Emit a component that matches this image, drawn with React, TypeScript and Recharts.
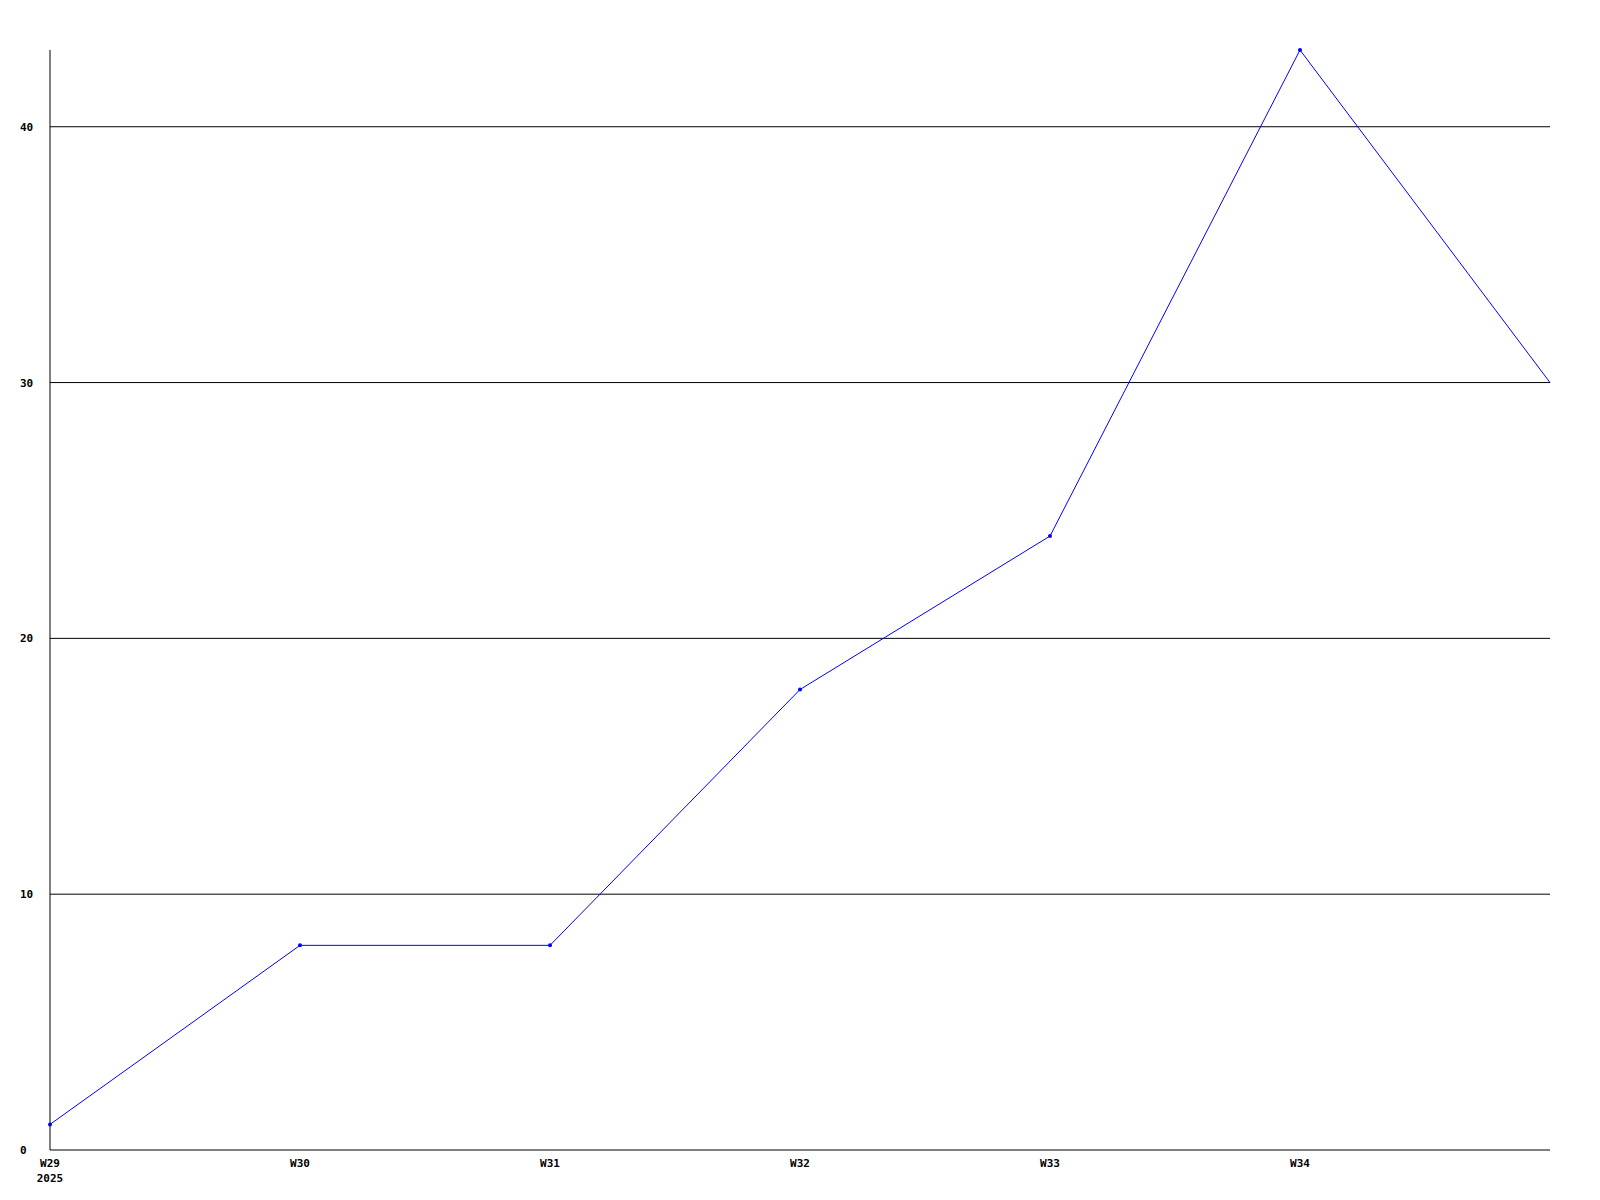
import { LineChart, Line, XAxis, YAxis, CartesianGrid } from 'recharts'

const weeks = ['W29', 'W30', 'W31', 'W32', 'W33', 'W34', 'W35']
const counts = [1, 8, 8, 18, 24, 43, 30]
const yTicks = [0, 10, 20, 30, 40]
const gridValues = [10, 20, 30, 40]
const xTicks = [0, 1, 2, 3, 4, 5]
const yearLabel = '2025'

const data = weeks.map((week, i) => ({ idx: i, week, count: counts[i] }))

const labelFont = {
  fontFamily: '"DejaVu Sans Mono", monospace',
  fontSize: 11,
  fontWeight: 'bold' as const,
  fill: '#000',
}

function YTick(props: any) {
  const { y, payload } = props
  return (
    <text x={20} y={y} dy={4} textAnchor="start" {...labelFont}>
      {payload.value}
    </text>
  )
}

function XTick(props: any) {
  const { x, y, payload } = props
  return (
    <g>
      <text x={x} y={y} dy={9} textAnchor="middle" {...labelFont}>
        {weeks[payload.value]}
      </text>
      {payload.value === 0 && (
        <text x={x} y={y} dy={24} textAnchor="middle" {...labelFont}>
          {yearLabel}
        </text>
      )}
    </g>
  )
}

// the last week has no marker in the original
function PointDot(props: any) {
  const { cx, cy, index } = props
  if (index === counts.length - 1) return <g key={index} />
  return <circle key={index} cx={cx} cy={cy} r={2} fill="#0000ff" />
}

export default function App() {
  return (
    <div style={{ position: 'absolute', left: 0, top: 0, width: 1600, height: 1200, background: '#fff' }}>
      <LineChart
        width={1600}
        height={1200}
        data={data}
        margin={{ top: 50, right: 50, bottom: 0, left: 0 }}
      >
        <CartesianGrid vertical={false} stroke="#000" strokeWidth={1} horizontalValues={gridValues} />
        <XAxis
          dataKey="idx"
          type="number"
          domain={[0, 6]}
          ticks={xTicks}
          height={50}
          axisLine={{ stroke: '#000', strokeWidth: 1 }}
          tickLine={false}
          tick={<XTick />}
          interval={0}
        />
        <YAxis
          type="number"
          domain={[0, 43]}
          ticks={yTicks}
          width={50}
          axisLine={{ stroke: '#000', strokeWidth: 1 }}
          tickLine={false}
          tick={<YTick />}
          interval={0}
        />
        <Line
          type="linear"
          dataKey="count"
          stroke="#0000ff"
          strokeWidth={1}
          dot={<PointDot />}
          isAnimationActive={false}
        />
      </LineChart>
    </div>
  )
}
